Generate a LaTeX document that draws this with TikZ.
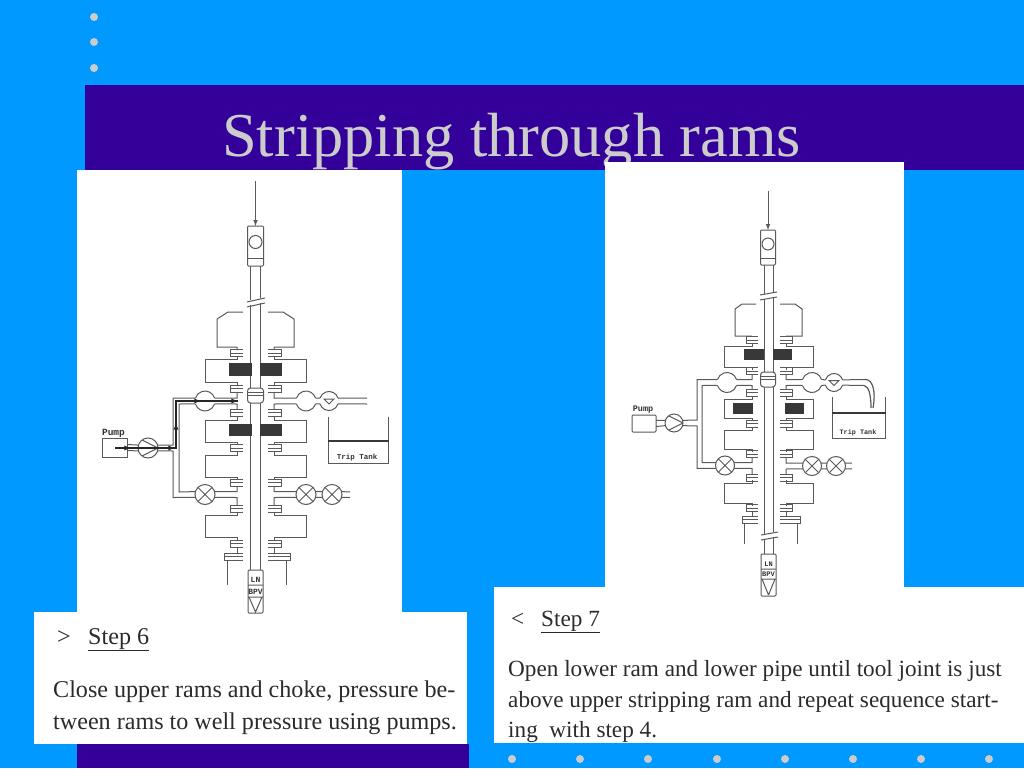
\documentclass[tikz,border=0pt]{standalone}
\usepackage{fontspec}
\setmainfont{Liberation Serif}
\newfontfamily\labelfont{Liberation Mono}[Scale=1]
\definecolor{slideblue}{HTML}{0099FF}
\definecolor{slideindigo}{HTML}{330099}
\definecolor{slidegrey}{HTML}{CCCCCC}
\definecolor{inktext}{HTML}{2B2B2B}
\newcommand{\flng}[3]{\draw[pipeline] (#2,{#3-3.5}) -- (#1,{#3-3.5}) -- (#1,{#3+3.5}) -- (#2,{#3+3.5}) (#1,#3) -- (#2,#3);}
\newcommand{\rambody}[4]{\draw[pipeline] (#1,{#3-3}) -- (#1,#3) -- (#2,#3) -- (#2,#4) -- (#1,#4) -- (#1,{#4+3});}
\newcommand{\ballnode}[5][]{\node[ballv,minimum size=2*#5pt,#1] (#2) at (#3,#4) {};
  \draw[pipeline] (#2.17) arc (17:163:#5pt) (#2.197) arc (197:343:#5pt);}
\newcommand{\ckmark}[1]{\draw[pipeline] ([xshift=-5pt,yshift=2pt]#1.center) -- ([xshift=5pt,yshift=2pt]#1.center) -- ([yshift=-3pt]#1.center) -- cycle;}
\begin{document}
\begin{tikzpicture}[x=1pt,y=-1pt,
  pipeline/.style={draw=black!65,line width=1pt},
  ballv/.style={circle,inner sep=0pt,outer sep=0pt},
  valvex/.style={circle,draw=black!65,line width=1pt,inner sep=0pt,outer sep=0pt,fill=white,
    path picture={\draw[pipeline] (path picture bounding box.north west) -- (path picture bounding box.south east)
      (path picture bounding box.south west) -- (path picture bounding box.north east);}},
  pumpv/.style={circle,draw=black!65,line width=1pt,inner sep=0pt,outer sep=0pt,fill=white,
    path picture={\draw[pipeline] (path picture bounding box.north west) -- (path picture bounding box.east)
      -- (path picture bounding box.south west);}},
  casing/.style={draw=black!65,line width=1pt,inner sep=0pt,outer sep=0pt,fill=white,rounded corners=1pt},
  ramblock/.style={fill=black!78},
  flow/.style={draw=black!85,line width=1.3pt},
  tag/.style={inner sep=0pt,text=black!80,font=\labelfont\bfseries},
  slidetext/.style={inner sep=0pt,anchor=base west,text=inktext,font=\fontsize{24.1}{24.1}\selectfont},
  slidetextb/.style={inner sep=0pt,anchor=base west,text=inktext,font=\fontsize{23.2}{23.2}\selectfont}]
\useasboundingbox (0,0) rectangle (1024,768);
\fill[slideblue] (0,0) rectangle (1024,768);
\fill[slideindigo] (85,85) rectangle (1024,170);
\fill[slideindigo] (77,744) rectangle (469,768);
\foreach \py in {17,42,68} {\fill[slidegrey] (94,\py) circle (4pt);}
\foreach \px in {512,580,648,717,785,853,921,989} {\fill[slidegrey] (\px,759) circle (4pt);}
\node[inner sep=0pt,anchor=base west,text=slidegrey,font=\fontsize{62.4}{62.4}\selectfont] (title) at (222,156) {Stripping through rams};
\fill[white] (77,170) rectangle (402,612);
\fill[white] (605,162) rectangle (904,587);
\fill[white] (34,612) rectangle (467,744);
\fill[white] (494,587) rectangle (1024,743);

\coordinate (dropa) at (255.5,181);
\node[casing,minimum width=16pt,minimum height=40pt] (kellya) at (255.5,246) {};
\node[circle,draw=black!65,line width=1pt,minimum size=13pt,inner sep=0pt] (porta) at (255.5,242) {};
\draw[pipeline] (247.5,258) -- (263.5,258);
\draw[pipeline,-latex] (dropa) -- (kellya.north);
\draw[pipeline] (250.5,266) -- (250.5,300) (260.5,266) -- (260.5,298) (250.5,305) -- (250.5,570) (260.5,303) -- (260.5,570);
\draw[pipeline] (247,302) -- (265,298) (247,307) -- (265,303);
\draw[pipeline] (243,312) -- (228,312) -- (217,319) -- (217,347) -- (237,347) (237,347) -- (237,350);
\draw[pipeline] (268,312) -- (283,312) -- (294,319) -- (294,347) -- (274,347) (274,347) -- (274,350);
\foreach \y in {353,388.5,412.5,448,482.5,508.5,543.5} {\flng{230}{243}{\y} \flng{281}{268}{\y}}
\flng{224}{243}{556.5}
\flng{290}{268}{556.5}
\draw[pipeline] (237,547) -- (237,553) (274,547) -- (274,553) (227,560) -- (227,585) (286,560) -- (286,585);
\rambody{237}{205}{359}{382}
\rambody{274}{306}{359}{382}
\rambody{237}{205}{420}{442}
\rambody{274}{306}{420}{442}
\rambody{237}{205}{455}{477}
\rambody{274}{306}{455}{477}
\rambody{237}{205}{515}{537}
\rambody{274}{306}{515}{537}
\fill[ramblock] (229,363) rectangle (251.5,376);
\fill[ramblock] (260,363) rectangle (282,376);
\fill[ramblock] (229,424) rectangle (251.5,436);
\fill[ramblock] (260,424) rectangle (282,436);
\node[casing,rounded corners=3pt,minimum width=16pt,minimum height=15pt] (jointa) at (255.5,395.5) {};
\draw[pipeline] (jointa.west) -- (jointa.east) ([yshift=3pt]jointa.west) -- ([yshift=3pt]jointa.east);
\node[casing,minimum width=15pt,minimum height=43pt] (bpva) at (255.5,591.5) {};
\draw[pipeline] (248,585) -- (263,585) (248,597) -- (263,597) (249,597) -- (255.5,612) -- (262,597);
\node[tag,font=\labelfont\bfseries\fontsize{8}{8}\selectfont] (lna) at (255.5,579.5) {LN};
\node[tag,font=\labelfont\bfseries\fontsize{8}{8}\selectfont] (plugaa) at (255.5,591.5) {BPV};

\ballnode{balla}{205}{401}{10}
\ballnode{ballb}{306}{401}{10}
\ballnode{checka}{329}{401}{9.5}
\ckmark{checka}
\node[valvex,minimum size=20pt] (chokea) at (205,494.5) {};
\node[valvex,minimum size=20pt] (chokeb) at (306,494.5) {};
\node[valvex,minimum size=20pt] (chokec) at (332,494.5) {};
\node[pumpv,minimum size=20pt] (pumpa) at (148,448) {};
\node[draw=black!65,line width=1pt,inner sep=0pt,outer sep=0pt,minimum width=25pt,minimum height=19pt] (pumpboxa) at (114.5,447.5) {};
\node[tag,font=\labelfont\bfseries\fontsize{9.5}{9.5}\selectfont] (pumplabela) at (113.5,433) {Pump};
\coordinate (outa) at (367,398);
\coordinate (outb) at (367,404);
\coordinate (outc) at (350,492);
\coordinate (outd) at (350,497.5);
\draw[pipeline] ([yshift=3pt]pumpboxa.east) -- (pumpa.163) ([yshift=-3pt]pumpboxa.east) -- (pumpa.197);
\draw[pipeline] (pumpa.17) -- (173,445) -- (173,398) -- (balla.163);
\draw[pipeline] (balla.197) -- (179,404) -- (179,492) -- (chokea.163);
\draw[pipeline] (pumpa.-17) -- (173,451) -- (173,497.5) -- (chokea.197);
\draw[pipeline] (237,392) -- (237,398) -- (balla.17) (237,409) -- (237,404) -- (balla.-17);
\draw[pipeline] (274,392) -- (274,398) -- (ballb.163) (274,409) -- (274,404) -- (ballb.197);
\draw[pipeline] (ballb.17) -- (checka.163) (ballb.-17) -- (checka.197) (checka.17) -- (outa) (checka.-17) -- (outb);
\draw[pipeline] (237,486) -- (237,491.5) -- (chokea.17) (237,505) -- (237,497.5) -- (chokea.-17);
\draw[pipeline] (274,486) -- (274,491.5) -- (chokeb.163) (274,505) -- (274,497.5) -- (chokeb.197);
\draw[pipeline] (chokeb.17) -- (chokec.163) (chokeb.-17) -- (chokec.197) (chokec.17) -- (outc) (chokec.-17) -- (outd);
\coordinate (flowa) at (115,448);
\coordinate (flowb) at (176,448);
\coordinate (flowc) at (176,401);
\coordinate (flowd) at (238,401);
\draw[flow] (flowa) -- (flowb) -- (flowc) -- (flowd);
\draw[flow,-latex] (flowa) -- ++(16,0);
\draw[flow,-latex] (flowb) ++(-14,0) -- ++(13,0);
\draw[flow,-latex] (flowb) -- ++(0,-25);
\draw[flow,-latex] (flowc) -- ++(25,0);
\draw[flow,-latex] (flowd) ++(-10,0) -- (flowd);
\draw[pipeline] (328,417) -- (328,463) -- (388,463) -- (388,417);
\draw[draw=black!78,line width=2.6pt] (327.5,441) -- (388.5,441);
\node[tag,font=\labelfont\bfseries\fontsize{7.5}{7.5}\selectfont] (tanklabela) at (357,458) {Trip Tank};

\coordinate (dropb) at (768,191);
\node[casing,minimum width=15pt,minimum height=35pt] (kellyb) at (768,247.5) {};
\node[circle,draw=black!65,line width=1pt,minimum size=12pt,inner sep=0pt] (portb) at (768,244) {};
\draw[pipeline] (760.5,258) -- (775.5,258);
\draw[pipeline,-latex] (dropb) -- (kellyb.north);
\draw[pipeline] (764,265) -- (764,294) (773,265) -- (773,292) (764,299) -- (764,534) (773,297) -- (773,532) (764,539) -- (764,554) (773,537) -- (773,554);
\draw[pipeline] (760,295) -- (777,292) (760,300) -- (777,297) (761,535) -- (778,532) (761,540) -- (778,537);
\draw[pipeline] (756,304) -- (742,304) -- (735,309) -- (735,336) -- (752,336);
\draw[pipeline] (780,304) -- (795,304) -- (802,309) -- (802,336) -- (786,336);
\foreach \y in {340,371,392.5,423.5,454,477.5,508} {\flng{746}{758}{\y} \flng{792}{780}{\y}}
\flng{742}{758}{519.5}
\flng{800}{780}{519.5}
\draw[pipeline] (752,511.5) -- (752,516) (786,511.5) -- (786,516) (744,523) -- (744,544) (797,523) -- (797,544);
\rambody{752}{724}{346}{367}
\rambody{786}{813}{346}{367}
\rambody{752}{724}{399}{418}
\rambody{786}{813}{399}{418}
\rambody{752}{724}{430}{449}
\rambody{786}{813}{430}{449}
\rambody{752}{724}{483}{503}
\rambody{786}{813}{483}{503}
\fill[ramblock] (744,349) rectangle (763.5,360);
\fill[ramblock] (772.5,349) rectangle (792,360);
\fill[ramblock] (733,403) rectangle (753,414);
\fill[ramblock] (785,403) rectangle (804,414);
\node[casing,rounded corners=3pt,minimum width=15pt,minimum height=15pt] (jointb) at (768,379.5) {};
\draw[pipeline] (jointb.west) -- (jointb.east) ([yshift=3pt]jointb.west) -- ([yshift=3pt]jointb.east);
\node[casing,minimum width=15pt,minimum height=42pt] (bpvb) at (768.5,575) {};
\draw[pipeline] (761,569) -- (776,569) (761,579) -- (776,579) (762,579) -- (768.5,595) (775,579) -- (768.5,595);
\node[tag,font=\labelfont\bfseries\fontsize{7}{7}\selectfont] (lnb) at (768.5,564) {LN};
\node[tag,font=\labelfont\bfseries\fontsize{7}{7}\selectfont] (plugbb) at (768.5,574.5) {BPV};

\ballnode{balld}{727}{382.5}{10}
\ballnode{balle}{812}{382.5}{10}
\ballnode{checkb}{834}{382.5}{9}
\ckmark{checkb}
\node[valvex,minimum size=19pt] (choked) at (725,465.5) {};
\node[valvex,minimum size=19pt] (chokee) at (812,466) {};
\node[valvex,minimum size=19pt] (chokef) at (836,466) {};
\node[pumpv,minimum size=18pt] (pumpb) at (674,423) {};
\node[draw=black!65,line width=1pt,inner sep=0pt,outer sep=0pt,rounded corners=1pt,minimum width=24pt,minimum height=17pt] (pumpboxb) at (644,423.5) {};
\node[tag,font=\labelfont\bfseries\fontsize{8.5}{8.5}\selectfont] (pumplabelb) at (643,410) {Pump};
\coordinate (oute) at (865,379.5);
\coordinate (outf) at (864,385.5);
\coordinate (outg) at (852,463);
\coordinate (outh) at (852,469);
\draw[pipeline] ([yshift=3pt]pumpboxb.east) -- (pumpb.163) ([yshift=-3pt]pumpboxb.east) -- (pumpb.197);
\draw[pipeline] (pumpb.17) -- (697,420) -- (697,379.5) -- (balld.163);
\draw[pipeline] (balld.197) -- (702,385.5) -- (702,462.5) -- (choked.163);
\draw[pipeline] (pumpb.-17) -- (697,426) -- (697,468.5) -- (choked.197);
\draw[pipeline] (752,375) -- (752,379.5) -- (balld.17) (752,389) -- (752,385.5) -- (balld.-17);
\draw[pipeline] (786,375) -- (786,379.5) -- (balle.163) (786,389) -- (786,385.5) -- (balle.197);
\draw[pipeline] (balle.17) -- (checkb.163) (balle.-17) -- (checkb.197) (checkb.17) -- (oute) (checkb.-17) -- (outf);
\draw[pipeline] (752,457.5) -- (752,462.5) -- (choked.17) (752,474) -- (752,468.5) -- (choked.-17);
\draw[pipeline] (786,457.5) -- (786,463) -- (chokee.163) (786,474) -- (786,469) -- (chokee.197);
\draw[pipeline] (chokee.17) -- (chokef.163) (chokee.-17) -- (chokef.197) (chokef.17) -- (outg) (chokef.-17) -- (outh);
\draw[pipeline,line width=1.2pt] (oute) .. controls (873,379) and (876,392) .. (873,408);
\draw[pipeline,line width=1.2pt] (outf) .. controls (869,386) and (871,396) .. (871,408);
\draw[pipeline] (832,397) -- (832,438) -- (885,438) -- (885,397);
\draw[draw=black!78,line width=2.6pt] (831.5,413) -- (885.5,413);
\node[tag,font=\labelfont\bfseries\fontsize{6.8}{6.8}\selectfont] (tanklabelb) at (858,433) {Trip Tank};

\node[slidetext] (marka) at (57,644) {>};
\node[slidetext] (stepa) at (88,644) {\underline{Step 6}};
\node[slidetext] (linea) at (53,697) {Close upper rams and choke, pressure be-};
\node[slidetext] (lineb) at (53,729) {tween rams to well pressure using pumps.};
\node[slidetextb] (markb) at (511,626) {<};
\node[slidetextb] (stepb) at (541,626) {\underline{Step 7}};
\node[slidetextb] (linec) at (508,676) {Open lower ram and lower pipe until tool joint is just};
\node[slidetextb] (lined) at (508,707) {above upper stripping ram and repeat sequence start-};
\node[slidetextb] (linee) at (508,737) {ing\ \ with step 4.};
\end{tikzpicture}
\end{document}
